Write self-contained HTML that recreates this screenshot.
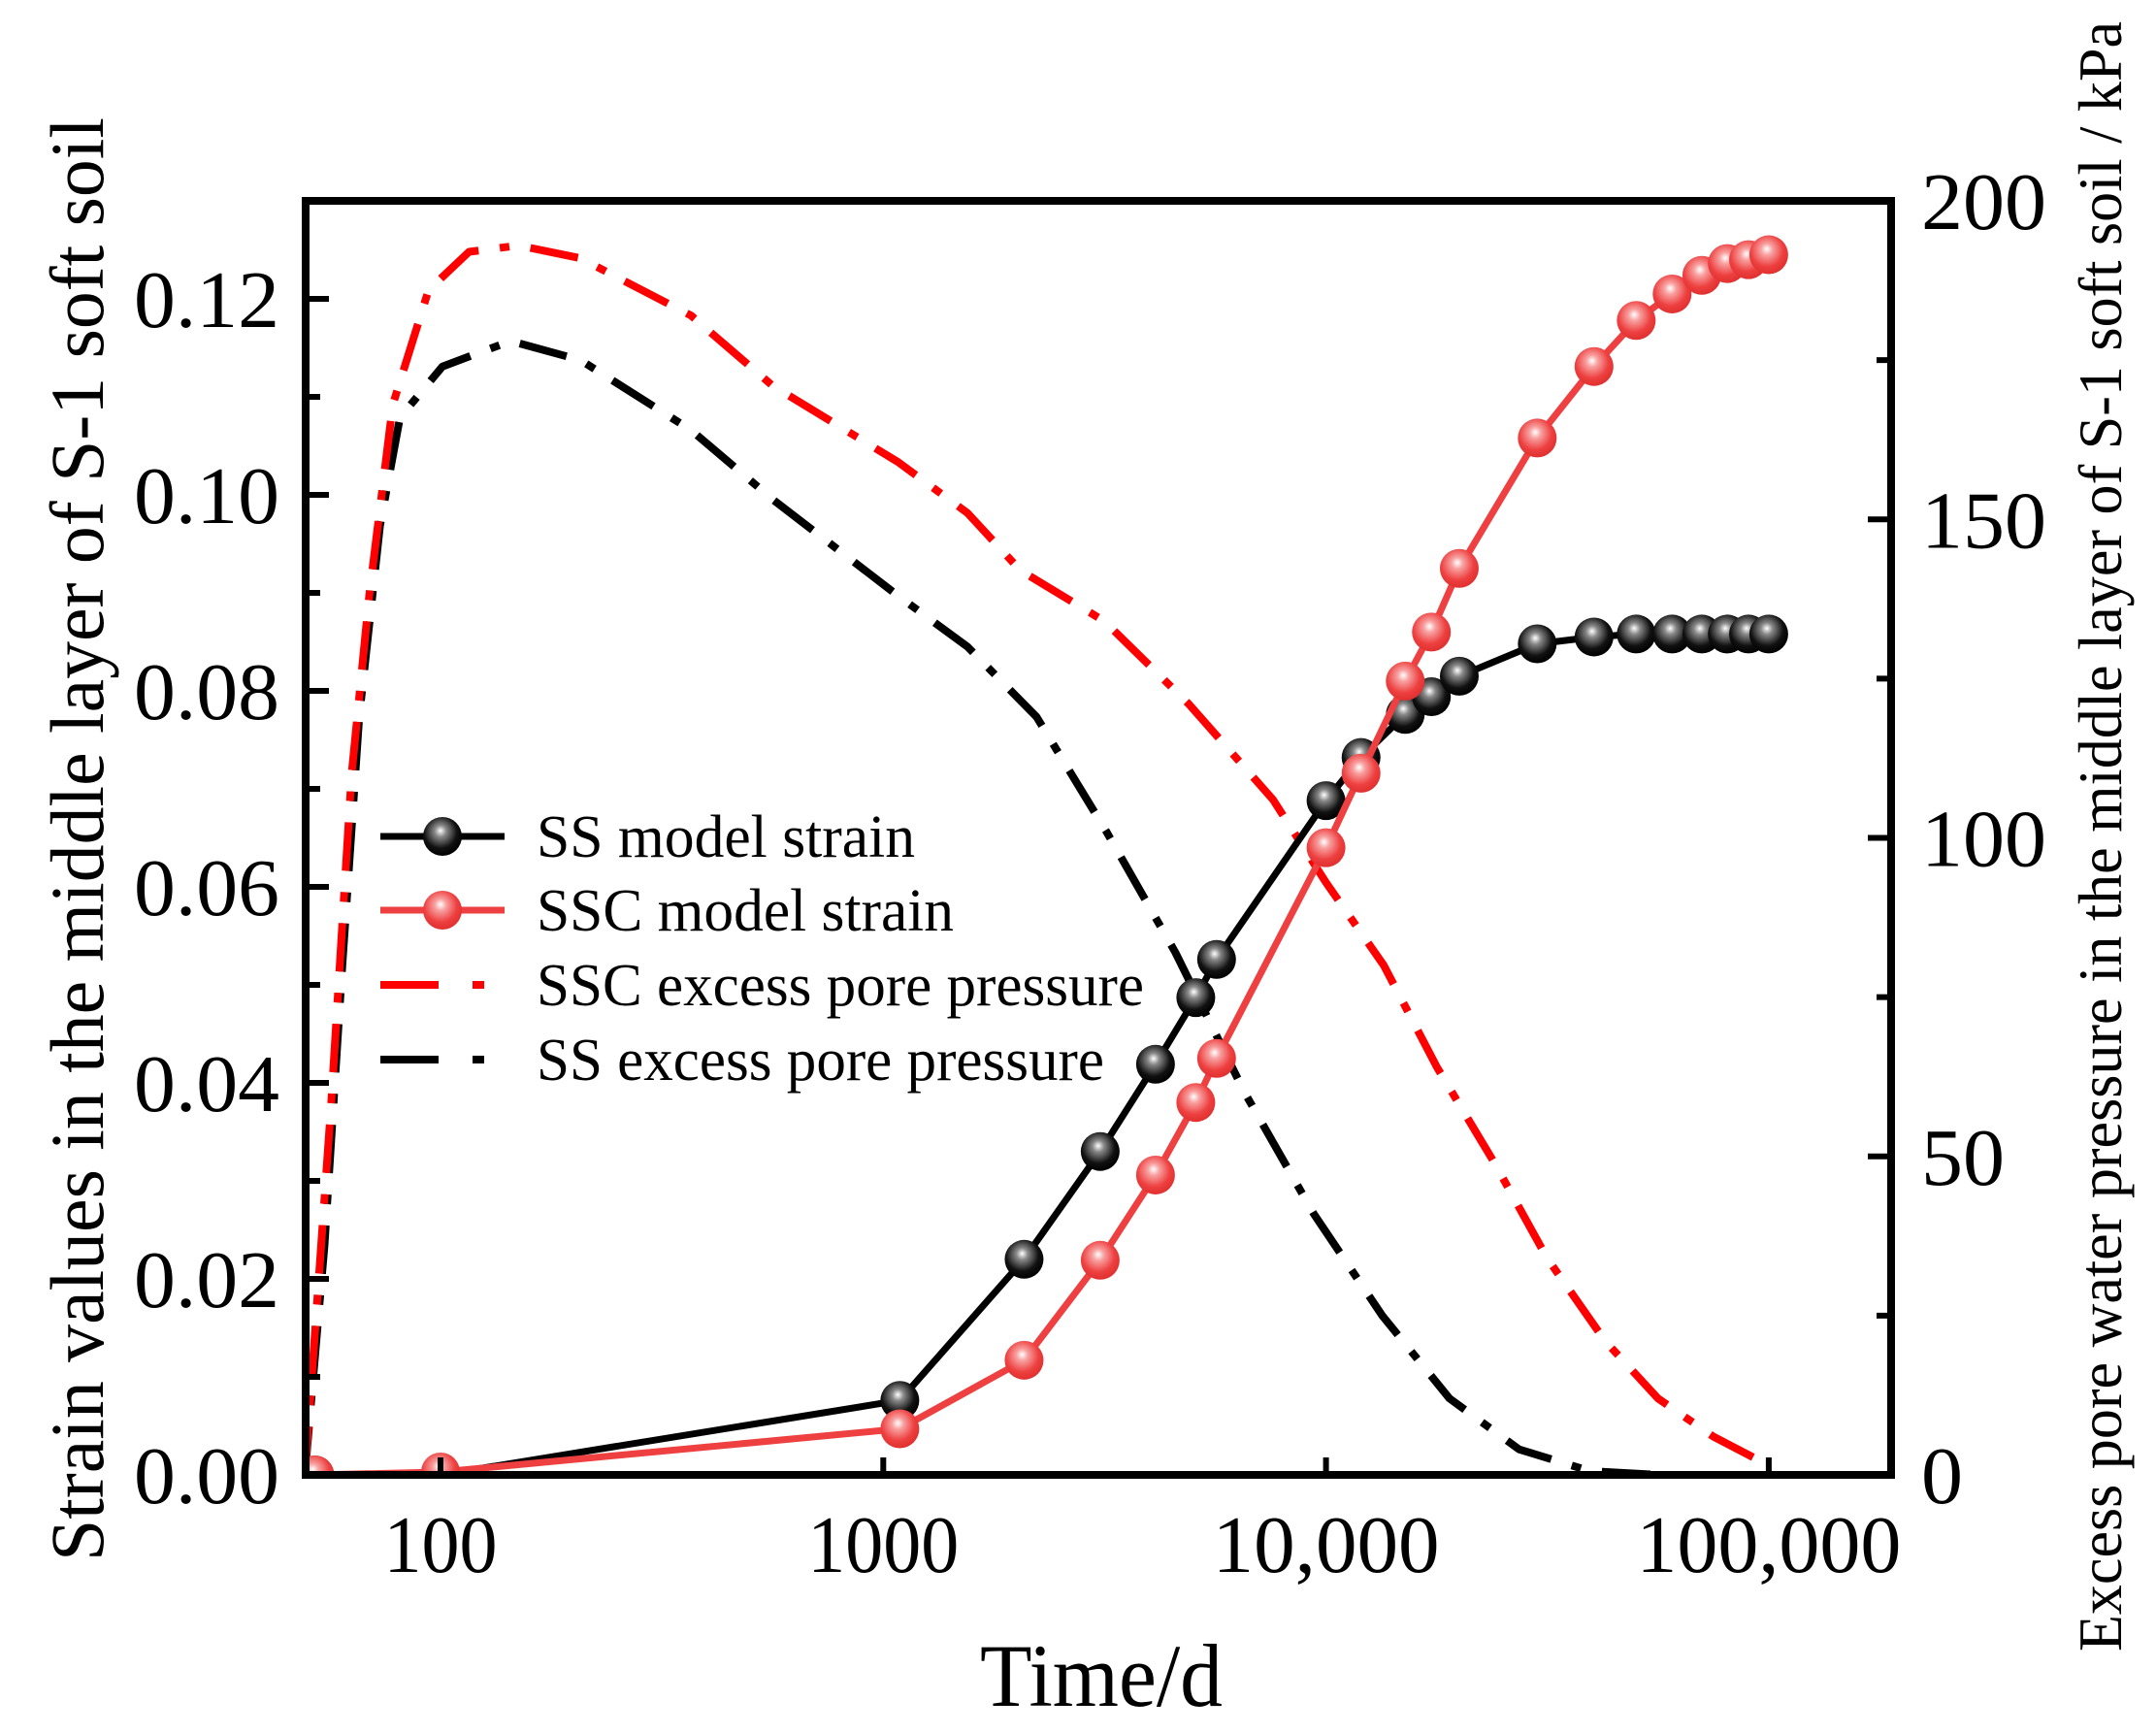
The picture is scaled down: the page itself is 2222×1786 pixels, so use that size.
<!DOCTYPE html>
<html><head><meta charset="utf-8"><style>
html,body{margin:0;padding:0;background:#fff;}
svg{display:block;}
text{font-family:"Liberation Serif","Times New Roman",serif;}
</style></head><body>
<svg id="chart" width="2222" height="1786" viewBox="0 0 2222 1786" font-family="Liberation Serif, serif">
<defs>
<radialGradient id="gBlack" cx="0.45" cy="0.4" r="0.6" fx="0.45" fy="0.35">
<stop offset="0" stop-color="#ffffff"/><stop offset="0.25" stop-color="#888"/><stop offset="0.7" stop-color="#111"/><stop offset="1" stop-color="#000"/></radialGradient>
<radialGradient id="gRed" cx="0.45" cy="0.4" r="0.6" fx="0.45" fy="0.35">
<stop offset="0" stop-color="#ffffff"/><stop offset="0.25" stop-color="#f8a0a0"/><stop offset="0.7" stop-color="#ee4040"/><stop offset="1" stop-color="#e03030"/></radialGradient>
<clipPath id="plotClip"><rect x="315" y="207" width="1634" height="1313"/></clipPath>
</defs>
<g id="marks" clip-path="url(#plotClip)"></g>
<g id="axes"></g>
</svg>
<script>
const strainTimes = [52, 100, 1090, 2080, 3090, 4120, 5080, 5660, 10000, 12000, 15100, 17300, 20000, 30000, 40300, 50200, 60500, 70600, 80600, 90000, 100000];
const ssStrain = [0, 0, 0.0076, 0.022, 0.033, 0.0419, 0.0487, 0.0526, 0.0688, 0.0732, 0.0776, 0.0794, 0.0815, 0.0848, 0.0855, 0.0858, 0.0858, 0.0858, 0.0858, 0.0858, 0.0858];
const sscStrain = [0, 0.0003, 0.0047, 0.0117, 0.0219, 0.0306, 0.038, 0.0425, 0.064, 0.0716, 0.081, 0.086, 0.0925, 0.1058, 0.1131, 0.1178, 0.1205, 0.1224, 0.1236, 0.124, 0.1245];
const sscPTimes = [49.4, 56.6, 63, 69, 78, 94, 116, 150, 207, 368, 562, 1080, 1550, 2040, 3160, 4900, 7590, 10000, 13500, 17800, 24000, 31600, 42700, 56200, 75000, 100000];
const sscPressure = [0, 58, 110, 138, 168, 186, 192, 193, 191, 182, 171, 159, 151, 142, 134, 121, 106, 93, 80, 64, 49, 34, 21, 12, 6, 1.5];
const ssPTimes = [49.4, 54.7, 60, 65.5, 73, 81, 101, 144, 207, 368, 566, 1080, 1550, 2220, 3190, 4570, 6550, 9380, 13400, 19000, 27300, 39500, 56600, 100000];
const ssPressure = [0, 36, 80, 119, 149, 166, 174, 178, 175, 164, 153, 138, 130, 119, 101, 82, 60, 41, 25, 12, 4, 0.6, 0, 0];
const xTickVals = [100, 1000, 10000, 100000];
const xTickLabels = ["100", "1000", "10,000", "100,000"];
const yLeftTicks = [0, 0.02, 0.04, 0.06, 0.08, 0.10, 0.12];
const yLeftLabels = ["0.00", "0.02", "0.04", "0.06", "0.08", "0.10", "0.12"];
const yRightTicks = [0, 50, 100, 150, 200];
const yRightLabels = ["0", "50", "100", "150", "200"];

const NS = "http://www.w3.org/2000/svg";
const L = 315, R = 1949, T = 207, B = 1520;
const xs = t => 454 + (Math.log10(t) - 2) * 456.3;
const yl = v => B - v / 0.130 * (B - T);
const yr = v => B - v / 200 * (B - T);
function mk(tag, attrs, parent) {
  const e = document.createElementNS(NS, tag);
  for (const k in attrs) e.setAttribute(k, attrs[k]);
  parent.appendChild(e);
  return e;
}
const marks = document.getElementById('marks');
const axes = document.getElementById('axes');

function pathFrom(ts, vs, yf) {
  return ts.map((t, i) => (i ? 'L' : 'M') + xs(t).toFixed(1) + ',' + yf(vs[i]).toFixed(1)).join(' ');
}
let p1 = mk('path', {d: pathFrom(ssPTimes, ssPressure, yr), fill: 'none', stroke: '#000', 'stroke-width': 8, 'stroke-dasharray': '50 22 10 22', 'stroke-linejoin': 'round'}, marks);


let p2 = mk('path', {d: pathFrom(sscPTimes, sscPressure, yr), fill: 'none', stroke: '#ff0000', 'stroke-width': 8, 'stroke-dasharray': '50 22 10 22', 'stroke-linejoin': 'round'}, marks);



function strainSeries(vals, color, grad, name) {
  const ln = mk('path', {d: pathFrom(strainTimes, vals, yl), fill: 'none', stroke: color, 'stroke-width': 7, 'stroke-linejoin': 'round'}, marks);
  
  
  strainTimes.forEach((t, i) => {
    const c = mk('circle', {cx: xs(t), cy: yl(vals[i]), r: 20, fill: 'url(#' + grad + ')'}, marks);
    
    
  });
}
strainSeries(ssStrain, '#000', 'gBlack', 'ss-strain');
strainSeries(sscStrain, '#ee4040', 'gRed', 'ssc-strain');

const fr = mk('rect', {x: L, y: T, width: R - L, height: B - T, fill: 'none', stroke: '#000', 'stroke-width': 8}, axes);



function txt(s, attrs, name) {
  attrs['font-family'] = 'Liberation Serif, serif';
  const e = mk('text', attrs, axes);
  e.textContent = s;
  
  
  return e;
}
for (let k = 0; k <= 13; k++) {
  const v = k * 0.01;
  const maj = k % 2 === 0;
  mk('line', {x1: L, x2: L + (maj ? 24 : 15), y1: yl(v), y2: yl(v), stroke: '#000', 'stroke-width': 6}, axes);
}
yLeftTicks.forEach((v, i) => {
  txt(yLeftLabels[i], {x: 288, y: yl(v) + 29, 'text-anchor': 'end', 'font-size': 84, textLength: 150, lengthAdjust: 'spacingAndGlyphs'}, 'y-left-tick-label');
});
for (let v = 0; v <= 200; v += 25) {
  const maj = v % 50 === 0;
  mk('line', {x1: R, x2: R - (maj ? 24 : 15), y1: yr(v), y2: yr(v), stroke: '#000', 'stroke-width': 6}, axes);
}
yRightTicks.forEach((v, i) => {
  txt(yRightLabels[i], {x: 1980, y: yr(v) + 29, 'text-anchor': 'start', 'font-size': 84, textLength: yRightLabels[i].length * 43, lengthAdjust: 'spacingAndGlyphs'}, 'y-right-tick-label');
});
xTickVals.forEach((v, i) => {
  mk('line', {x1: xs(v), x2: xs(v), y1: B, y2: B - 18, stroke: '#000', 'stroke-width': 6}, axes);
  txt(xTickLabels[i], {x: xs(v), y: 1620, 'text-anchor': 'middle', 'font-size': 84, textLength: xTickLabels[i].length * 39, lengthAdjust: 'spacingAndGlyphs'}, 'x-tick-label');
});
txt('Time/d', {x: 1135, y: 1758, 'text-anchor': 'middle', 'font-size': 92, textLength: 250, lengthAdjust: 'spacingAndGlyphs'}, 'x-axis-title');
txt('Strain values in the middle layer of S-1 soft soil', {x: 0, y: 0, 'text-anchor': 'middle', 'font-size': 78, textLength: 1488, lengthAdjust: 'spacingAndGlyphs', transform: 'translate(106,865) rotate(-90)'}, 'y-left-axis-title');
txt('Excess pore water pressure in the middle layer of S-1 soft soil / kPa', {x: 0, y: 0, 'text-anchor': 'middle', 'font-size': 64, textLength: 1680, lengthAdjust: 'spacingAndGlyphs', transform: 'translate(2186,862) rotate(-90)'}, 'y-right-axis-title');

const leg = [
  {label: 'SS model strain', color: '#000', grad: 'gBlack', dash: null, y: 862, tl: 390},
  {label: 'SSC model strain', color: '#ee4040', grad: 'gRed', dash: null, y: 938, tl: 430},
  {label: 'SSC excess pore pressure', color: '#ff0000', dash: '60 35 12 100', y: 1015, tl: 626},
  {label: 'SS excess pore pressure', color: '#000', dash: '60 35 12 100', y: 1092, tl: 585}
];
leg.forEach(e => {
  const ln = mk('line', {x1: 392, x2: 520, y1: e.y, y2: e.y, stroke: e.color, 'stroke-width': e.dash ? 8 : 7}, axes);
  if (e.dash) ln.setAttribute('stroke-dasharray', e.dash);
  
  
  if (e.grad) {
    const c = mk('circle', {cx: 456, cy: e.y, r: 20, fill: 'url(#' + e.grad + ')'}, axes);
    
    
  }
  txt(e.label, {x: 553, y: e.y + 21, 'font-size': 62, textLength: e.tl, lengthAdjust: 'spacingAndGlyphs'}, 'legend-entry');
});
</script>
</body></html>
